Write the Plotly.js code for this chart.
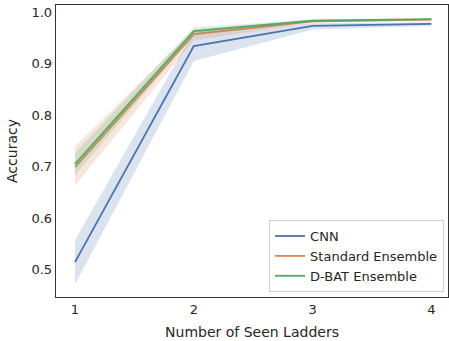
<!DOCTYPE html>
<html>
<head>
<meta charset="utf-8">
<script src="https://cdn.plot.ly/plotly-3.0.1.min.js"></script>
<style>html,body{margin:0;padding:0;background:#fff;}#chart{width:449px;height:341px;}</style>
</head>
<body>
<div id="chart"></div>
<script>
const ladders = [1, 2, 3, 4];
const seriesNames = ["CNN", "Standard Ensemble", "D-BAT Ensemble"];
const cnnMean = [0.515, 0.934, 0.973, 0.977];
const cnnLow  = [0.472, 0.905, 0.966, 0.973];
const cnnHigh = [0.558, 0.962, 0.978, 0.980];
const stdMean = [0.699, 0.957, 0.982, 0.985];
const stdLow  = [0.664, 0.945, 0.979, 0.983];
const stdHigh = [0.739, 0.966, 0.985, 0.987];
const dbatMean = [0.705, 0.963, 0.983, 0.986];
const dbatLow  = [0.684, 0.955, 0.980, 0.984];
const dbatHigh = [0.727, 0.970, 0.986, 0.988];
const colors = ["#4c72b0", "#dd8452", "#55a868"];
const bandColors = ["rgba(76,114,176,0.2)", "rgba(221,132,82,0.2)", "rgba(85,168,104,0.2)"];

const groups = [
  [cnnMean, cnnLow, cnnHigh],
  [stdMean, stdLow, stdHigh],
  [dbatMean, dbatLow, dbatHigh]
];
const traces = [];
groups.forEach((g, i) => {
  traces.push({x: ladders, y: g[1], mode: "lines", line: {width: 0, color: bandColors[i]}, showlegend: false, hoverinfo: "skip"});
  traces.push({x: ladders, y: g[2], mode: "lines", line: {width: 0, color: bandColors[i]}, fill: "tonexty", fillcolor: bandColors[i], showlegend: false, hoverinfo: "skip"});
  traces.push({x: ladders, y: g[0], mode: "lines", name: seriesNames[i], line: {width: 1.8, color: colors[i]}});
});

const layout = {
  width: 449, height: 341,
  margin: {l: 56, r: 1, t: 5, b: 44},
  paper_bgcolor: "#fff", plot_bgcolor: "#fff",
  font: {family: "DejaVu Sans", size: 13, color: "#262626"},
  showlegend: true,
  xaxis: {
    range: [0.84, 4.14], tickvals: ladders, ticktext: ["1","2","3","4"],
    showgrid: false, zeroline: false, showline: true, mirror: true,
    linecolor: "#333", linewidth: 1.3, ticks: "", ticklen: 0,
    tickfont: {size: 13},
    title: {text: "Number of Seen Ladders", font: {size: 14}, standoff: 11}
  },
  yaxis: {
    range: [0.4475, 1.0135], tickvals: [0.5,0.6,0.7,0.8,0.9,1.0], ticktext: ["0.5","0.6","0.7","0.8","0.9","1.0"],
    showgrid: false, zeroline: false, showline: true, mirror: true,
    linecolor: "#333", linewidth: 1.3, ticks: "", ticklen: 0,
    tickfont: {size: 13},
    title: {text: "Accuracy", font: {size: 14}, standoff: 10}
  },
  legend: {
    x: 0.99, y: 0.017, xanchor: "right", yanchor: "bottom",
    traceorder: "normal",
    bgcolor: "rgba(255,255,255,0.8)", bordercolor: "#d0d0d0", borderwidth: 1,
    font: {size: 13, color: "#262626"}
  }
};
Plotly.newPlot("chart", traces, layout, {staticPlot: true, displayModeBar: false});
</script>
</body>
</html>
